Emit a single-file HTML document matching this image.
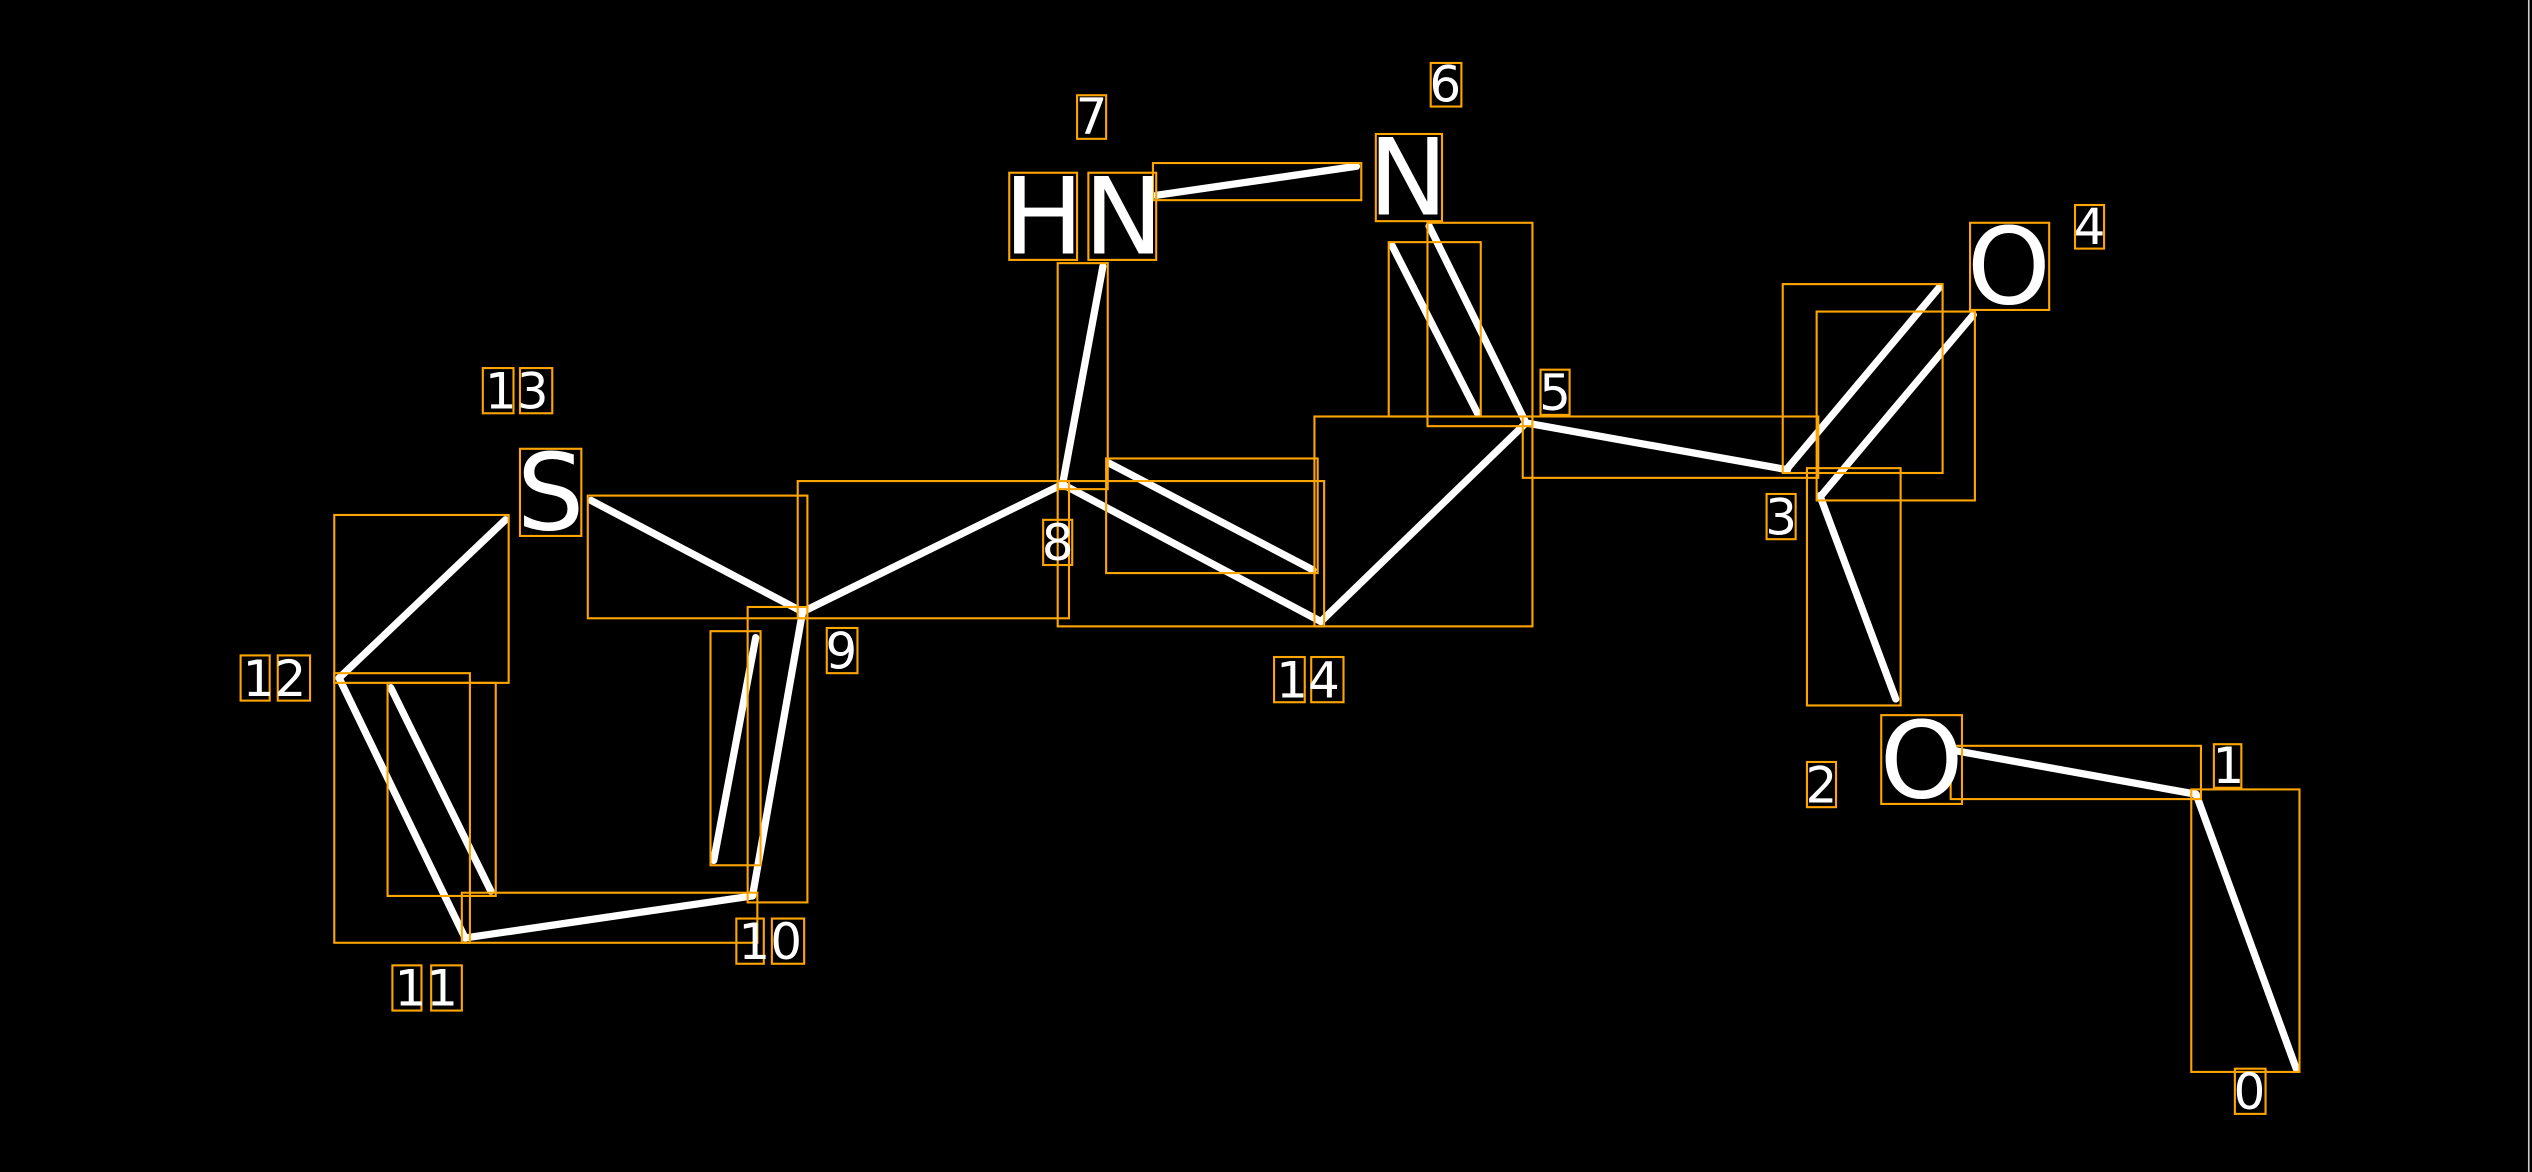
<!DOCTYPE html>
<html><head><meta charset="utf-8"><style>
html,body{margin:0;padding:0;background:#000;}
svg{display:block;}
text{font-family:"DejaVu Sans","Liberation Sans",sans-serif;fill:#fff;text-anchor:middle;}
</style></head><body>
<svg width="2532" height="1172" viewBox="0 0 1568 726" preserveAspectRatio="none" xmlns="http://www.w3.org/2000/svg">
<rect width="1568" height="726" fill="#000"/>
<line x1="1566" y1="0" x2="1566" y2="726" stroke="#ccc" stroke-width="1"/>
<g stroke="#fff" stroke-width="4.5" stroke-linecap="round">
<line x1="1422" y1="662" x2="1360" y2="492"/>
<line x1="1360" y1="492" x2="1211" y2="465"/>
<line x1="1174" y1="433" x2="1127" y2="307"/>
<line x1="1107" y1="290" x2="1201" y2="178"/>
<line x1="1127" y1="308" x2="1222" y2="195"/>
<line x1="945" y1="262" x2="1107" y2="291"/>
<line x1="945" y1="262" x2="885" y2="140"/>
<line x1="915" y1="256" x2="862" y2="152"/>
<line x1="945" y1="262" x2="818" y2="385"/>
<line x1="818" y1="385" x2="658" y2="300"/>
<line x1="687" y1="287" x2="813" y2="353"/>
<line x1="658" y1="300" x2="683" y2="165"/>
<line x1="716" y1="121" x2="840" y2="103"/>
<line x1="658" y1="300" x2="497" y2="379"/>
<line x1="497" y1="379" x2="366" y2="310"/>
<line x1="497" y1="379" x2="466" y2="555"/>
<line x1="468" y1="395" x2="442" y2="533"/>
<line x1="466" y1="555" x2="288" y2="581"/>
<line x1="288" y1="581" x2="210" y2="420"/>
<line x1="242" y1="426" x2="304" y2="552"/>
<line x1="210" y1="420" x2="313" y2="322"/>
</g>
<g fill="none" stroke="#ffa500" stroke-width="1.3">
<rect x="1357" y="489" width="67" height="175"/>
<rect x="1208" y="462" width="155" height="33"/>
<rect x="1119" y="290" width="58" height="147"/>
<rect x="1104" y="176" width="99" height="117"/>
<rect x="1125" y="193" width="98" height="117"/>
<rect x="943" y="258" width="183" height="38"/>
<rect x="884" y="138" width="65" height="126"/>
<rect x="860" y="150" width="57" height="108"/>
<rect x="814" y="258" width="135" height="130"/>
<rect x="655" y="298" width="165" height="90"/>
<rect x="685" y="284" width="131" height="71"/>
<rect x="655" y="163" width="31" height="140"/>
<rect x="714" y="101" width="129" height="23"/>
<rect x="494" y="298" width="168" height="85"/>
<rect x="364" y="307" width="136" height="76"/>
<rect x="463" y="376" width="37" height="183"/>
<rect x="440" y="391" width="31" height="145"/>
<rect x="286" y="553" width="183" height="31"/>
<rect x="207" y="417" width="84" height="167"/>
<rect x="240" y="423" width="67" height="132"/>
<rect x="207" y="319" width="108" height="104"/>
<rect x="1165" y="443" width="50" height="55"/>
<rect x="1220" y="138" width="49" height="54"/>
<rect x="852" y="83" width="41" height="54"/>
<rect x="625" y="107" width="42" height="54"/>
<rect x="674" y="107" width="42" height="54"/>
<rect x="322" y="278" width="38" height="54"/>
<rect x="1384" y="662" width="19" height="28"/>
<rect x="1371" y="461" width="17" height="27"/>
<rect x="1119" y="472" width="18" height="28"/>
<rect x="1094" y="306" width="18" height="28"/>
<rect x="1285" y="127" width="18" height="27"/>
<rect x="954" y="229" width="18" height="28"/>
<rect x="886" y="39" width="19" height="27"/>
<rect x="667" y="59" width="18" height="27"/>
<rect x="646" y="322" width="18" height="28"/>
<rect x="512" y="389" width="19" height="28"/>
<rect x="456" y="569" width="17" height="28"/>
<rect x="478" y="569" width="20" height="28"/>
<rect x="243" y="598" width="18" height="28"/>
<rect x="267" y="598" width="19" height="28"/>
<rect x="149" y="406" width="18" height="28"/>
<rect x="172" y="406" width="20" height="28"/>
<rect x="299" y="228" width="19" height="28"/>
<rect x="322" y="228" width="20" height="28"/>
<rect x="789" y="407" width="19" height="28"/>
<rect x="812" y="407" width="20" height="28"/>
</g>
<g font-size="66">
<text x="1190" y="494">O</text>
<text x="1244" y="188">O</text>
<text x="872" y="133">N</text>
<text x="671" y="157">HN</text>
<text x="341" y="328">S</text>
</g>
<g font-size="31">
<text x="1393" y="687">0</text>
<text x="1380" y="485">1</text>
<text x="1128" y="497">2</text>
<text x="1103" y="331">3</text>
<text x="1294" y="151">4</text>
<text x="963" y="254">5</text>
<text x="895" y="63">6</text>
<text x="676" y="83">7</text>
<text x="655" y="347">8</text>
<text x="521" y="414">9</text>
<text x="477" y="594">10</text>
<text x="264" y="623">11</text>
<text x="170" y="431">12</text>
<text x="320" y="253">13</text>
<text x="810" y="432">14</text>
</g>
</svg>
</body></html>
